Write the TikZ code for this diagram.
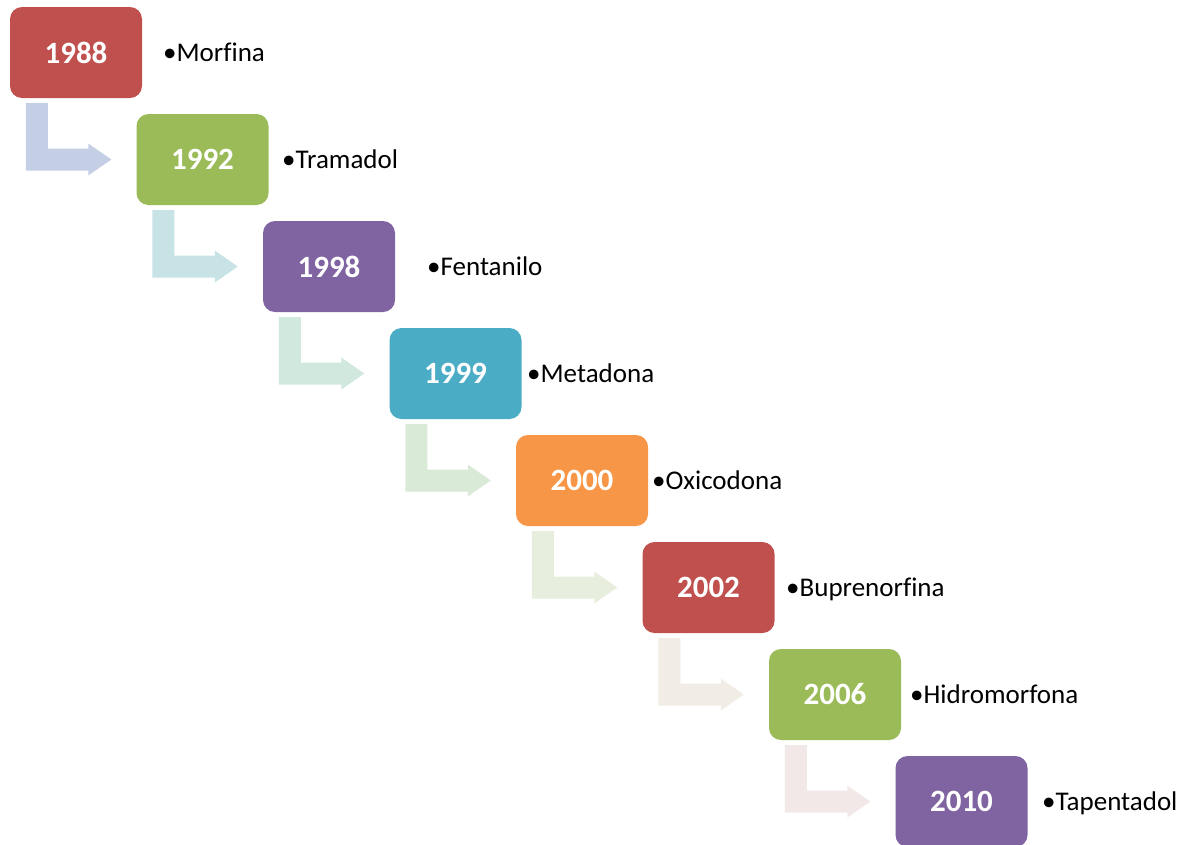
\documentclass[tikz,border=0pt]{standalone}
\usepackage{fontspec}
\setmainfont{Carlito}[Ligatures=CommonOff]

\definecolor{boxred}{HTML}{C0504D}
\definecolor{boxgreen}{HTML}{9BBB59}
\definecolor{boxpurple}{HTML}{8064A2}
\definecolor{boxaqua}{HTML}{4BACC6}
\definecolor{boxorange}{HTML}{F79646}
\definecolor{arrowa}{HTML}{C4CEE4}
\definecolor{arrowb}{HTML}{C8E3E5}
\definecolor{arrowc}{HTML}{D0E8DD}
\definecolor{arrowd}{HTML}{D9EAD7}
\definecolor{arrowe}{HTML}{E7EEDD}
\definecolor{arrowf}{HTML}{F1ECE6}
\definecolor{arrowg}{HTML}{F2E8E8}

\begin{document}
\begin{tikzpicture}[x=1pt, y=-1pt,
    year/.style={fill=#1, rounded corners=12pt, minimum width=132pt,
        minimum height=91pt, inner sep=0pt, text=white,
        font=\fontsize{31}{36}\selectfont\bfseries},
    drug/.style={anchor=base west, inner sep=0pt,
        font=\fontsize{27}{31}\selectfont},
    % bent block arrow: down out of one box, then right to the next
    link/.style={fill=#1, to path={
        ([xshift=16pt,yshift=-5pt]\tikztostart.south west) -- ++(22pt,0pt)
        |- ([xshift=-48pt,yshift=11pt]\tikztotarget.west) -- ++(0pt,5pt)
        -- ([xshift=-25pt]\tikztotarget.west) -- ++(-23pt,-16pt) -- ++(0pt,5pt)
        -| ([xshift=16pt,yshift=-5pt]\tikztostart.south west) -- cycle}}]

    \useasboundingbox (0,0) rectangle (1196,844);

    % Year boxes
    \node[year=boxred]    (y1988) at (76,52.5)    {1988};
    \node[year=boxgreen]  (y1992) at (202.5,159.5) {1992};
    \node[year=boxpurple] (y1998) at (329,266.5)   {1998};
    \node[year=boxaqua]   (y1999) at (455.5,373.5) {1999};
    \node[year=boxorange] (y2000) at (582,480.5)   {2000};
    \node[year=boxred]    (y2002) at (708.5,587.5) {2002};
    \node[year=boxgreen]  (y2006) at (835,694.5)   {2006};
    \node[year=boxpurple] (y2010) at (961.5,801.5) {2010};

    % Bent arrows from one box to the next
    \path[link=arrowa] (y1988) to (y1992);
    \path[link=arrowb] (y1992) to (y1998);
    \path[link=arrowc] (y1998) to (y1999);
    \path[link=arrowd] (y1999) to (y2000);
    \path[link=arrowe] (y2000) to (y2002);
    \path[link=arrowf] (y2002) to (y2006);
    \path[link=arrowg] (y2006) to (y2010);

    % Drug names
    \node[drug] (morfina)      at (163,61)   {•Morfina};
    \node[drug] (tramadol)     at (282,168)  {•Tramadol};
    \node[drug] (fentanilo)    at (427,275)  {•Fentanilo};
    \node[drug] (metadona)     at (527,382)  {•Metadona};
    \node[drug] (oxicodona)    at (652,489)  {•Oxicodona};
    \node[drug] (buprenorfina) at (786,596)  {•Buprenorfina};
    \node[drug] (hidromorfona) at (910,703)  {•Hidromorfona};
    \node[drug] (tapentadol)   at (1042,810) {•Tapentadol};

\end{tikzpicture}
\end{document}
